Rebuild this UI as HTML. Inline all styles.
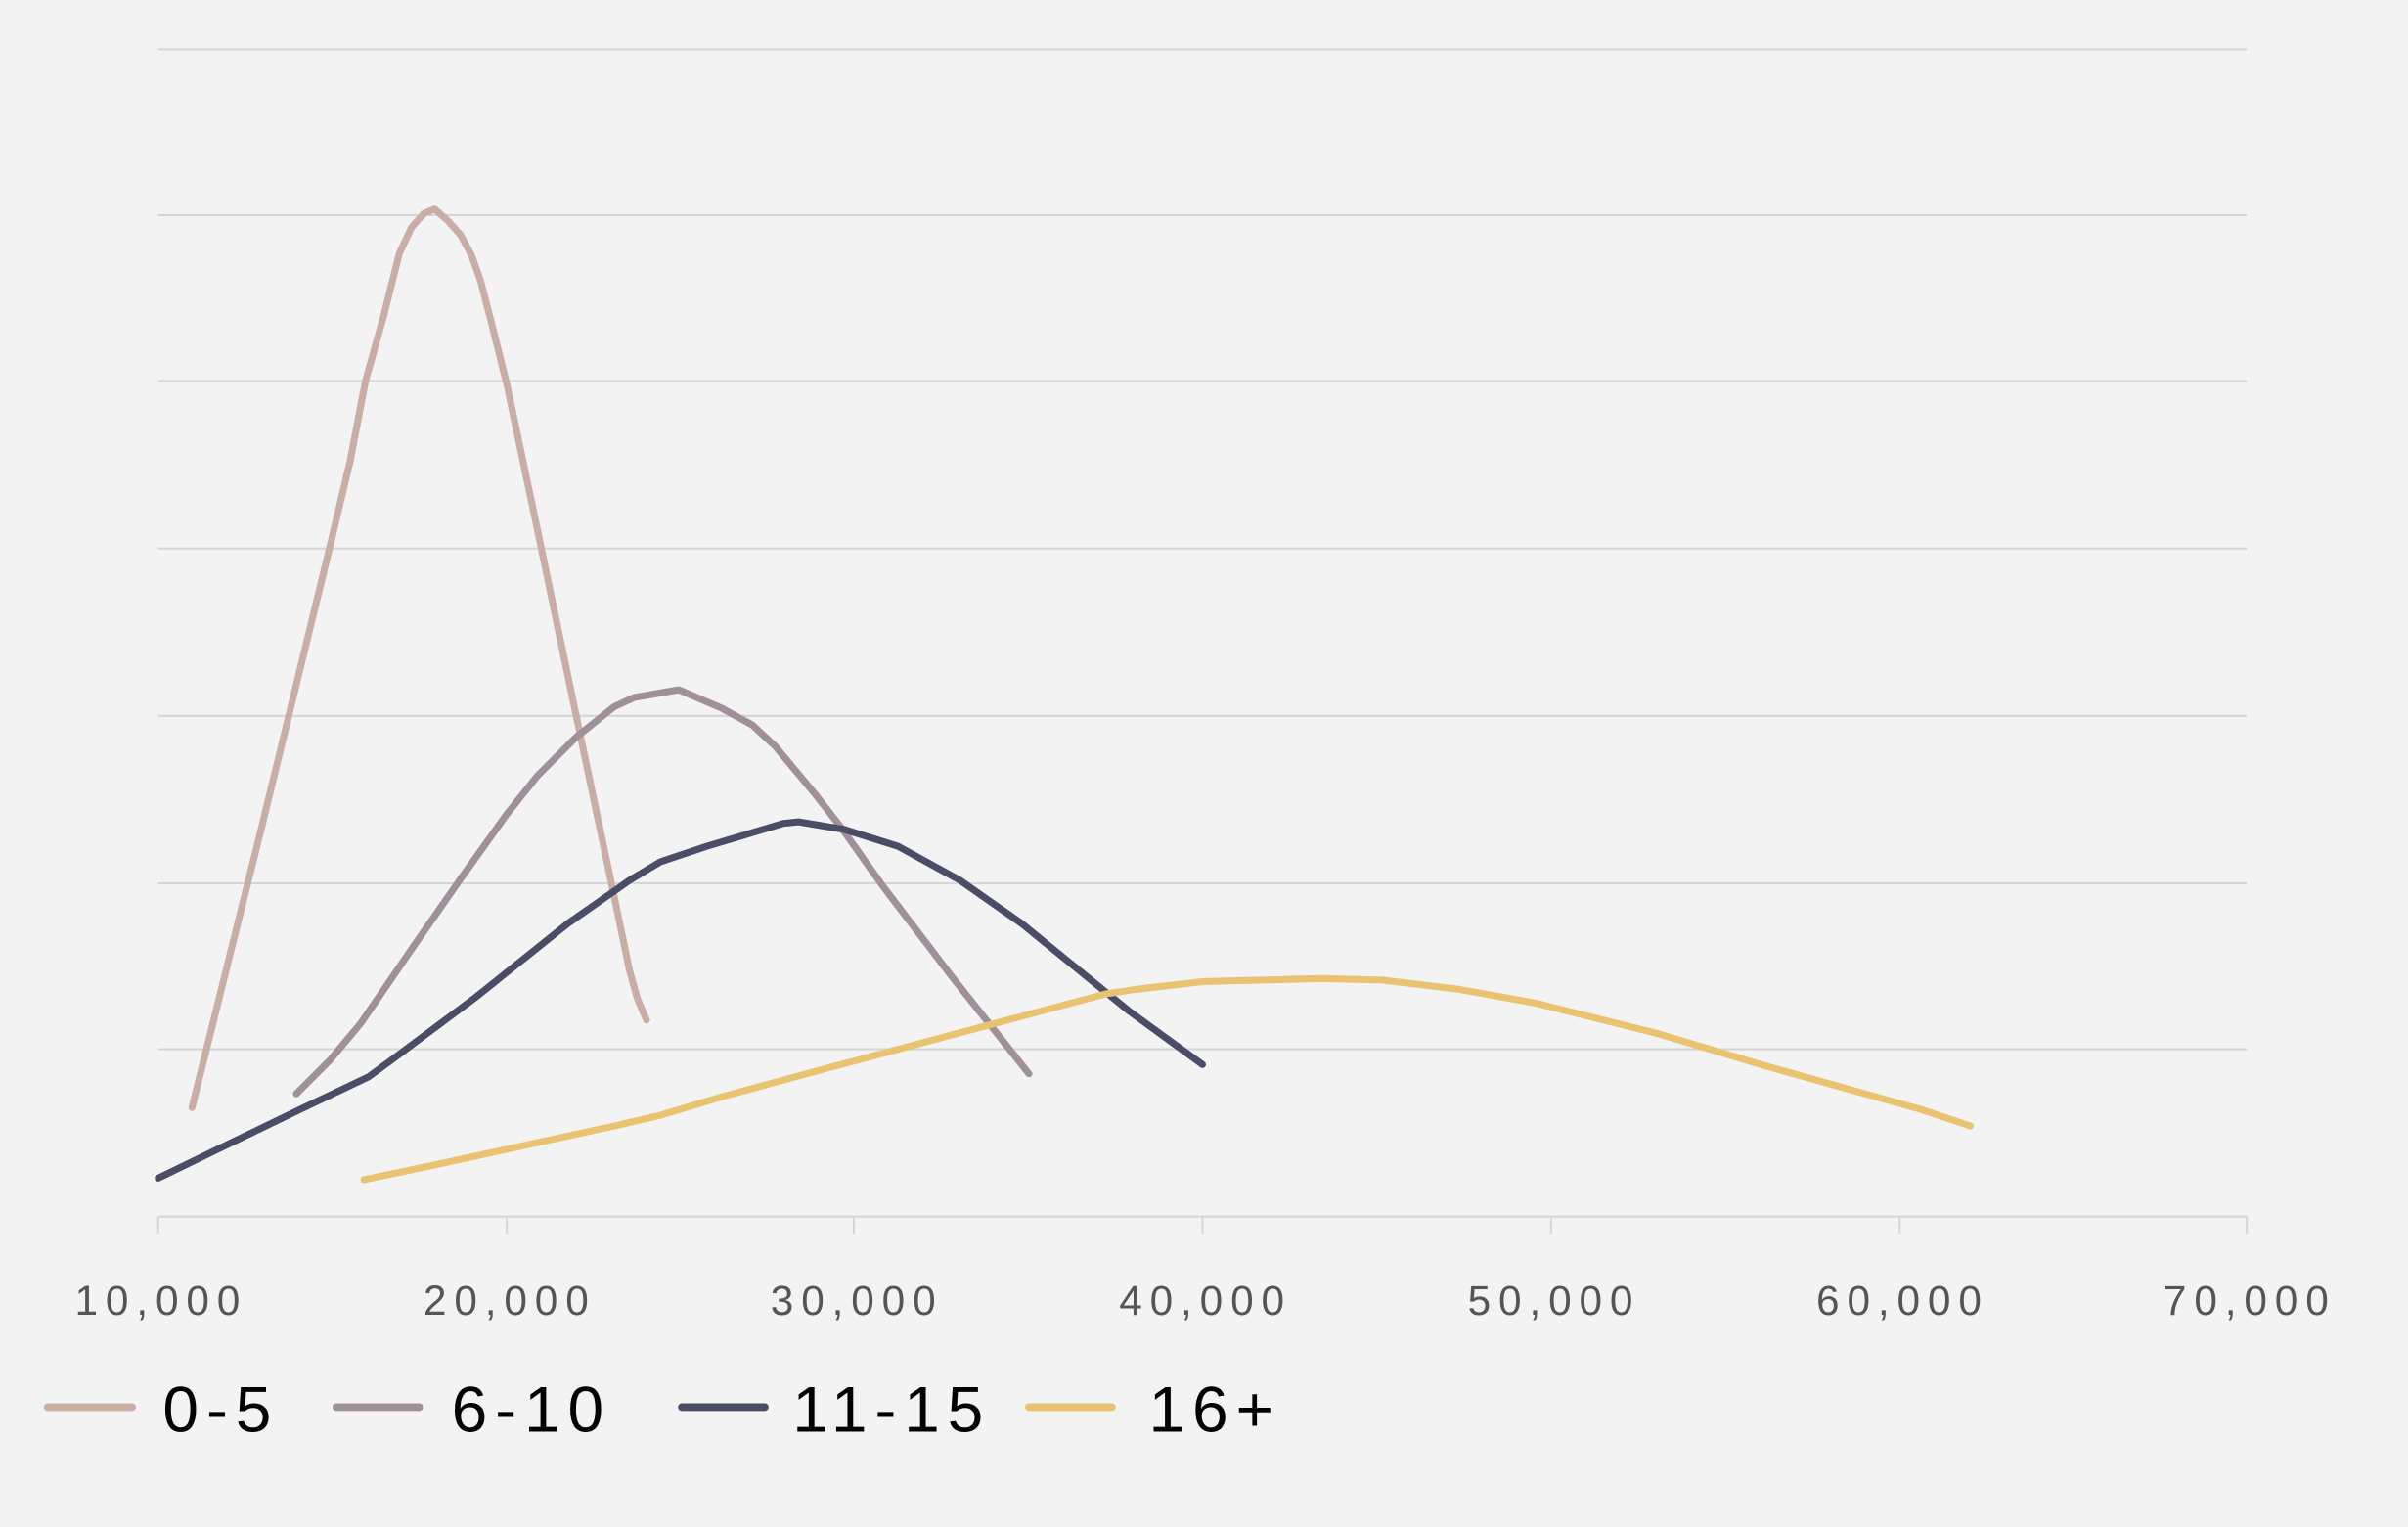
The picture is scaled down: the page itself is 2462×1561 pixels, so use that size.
<!DOCTYPE html>
<html><head><style>html,body{margin:0;padding:0;background:#f3f3f3;}svg{display:block}</style></head>
<body>
<svg width="2462" height="1561" viewBox="0 0 1568 994" xmlns="http://www.w3.org/2000/svg">
<rect width="1568" height="994" fill="#f3f3f3"/>
<g stroke="#d6d6d6" stroke-width="1.3">
<line x1="103" y1="32" x2="1463" y2="32"/><line x1="103" y1="140" x2="1463" y2="140"/>
<line x1="103" y1="248" x2="1463" y2="248"/><line x1="103" y1="357" x2="1463" y2="357"/>
<line x1="103" y1="466" x2="1463" y2="466"/><line x1="103" y1="575" x2="1463" y2="575"/>
<line x1="103" y1="683" x2="1463" y2="683"/><line x1="103" y1="792" x2="1463" y2="792"/>
<line x1="103" y1="792" x2="103" y2="803"/><line x1="330" y1="792" x2="330" y2="803"/>
<line x1="556" y1="792" x2="556" y2="803"/><line x1="783" y1="792" x2="783" y2="803"/>
<line x1="1010" y1="792" x2="1010" y2="803"/><line x1="1237" y1="792" x2="1237" y2="803"/>
<line x1="1463" y1="792" x2="1463" y2="803"/>
</g>
<g font-family="Liberation Sans, sans-serif" font-size="27" fill="#555" text-anchor="middle" letter-spacing="5">
<text x="105" y="856">10,000</text><text x="332" y="856">20,000</text><text x="558" y="856">30,000</text>
<text x="785" y="856">40,000</text><text x="1012" y="856">50,000</text><text x="1239" y="856">60,000</text>
<text x="1465" y="856">70,000</text>
</g>
<g fill="none" stroke-width="4.5" stroke-linecap="round" stroke-linejoin="round">
<polyline stroke="#c9aea6" points="125,721 170,540 215,355 228,300 238,248 250,205 260,165 268,148 276,139 283,136 292,144 300,153 307,166 313,183 320,210 330,250 350,345 375,465 395,560 410,632 415,650 421,664"/>
<polyline stroke="#9f9099" points="193,712 215,690 235,666 270,615 300,572 330,530 350,505 375,480 400,460 413,454 442,449 470,461 490,472 505,486 530,516 548,539 575,577 620,636 670,699"/>
<polyline stroke="#4b4d66" points="103,767 140,749 200,720 240,701 255,690 310,649 370,601 410,573 430,561 460,551 490,542 510,536 520,535 550,540 585,551 625,573 665,601 735,658 783,693"/>
<polyline stroke="#e8c371" points="237,768 280,759 340,746 400,733 430,726 470,714 540,695 600,679 660,663 720,647 740,644 783,639 860,637 900,638 950,644 1000,653 1080,673 1150,694 1200,708 1250,722 1283,733"/>
</g>
<g stroke-width="5" stroke-linecap="round">
<line x1="31" y1="916" x2="86" y2="916" stroke="#c9aea6"/>
<line x1="219" y1="916" x2="273" y2="916" stroke="#9f9099"/>
<line x1="444" y1="916" x2="498" y2="916" stroke="#4b4d66"/>
<line x1="670" y1="916" x2="724" y2="916" stroke="#e8c371"/>
</g>
<g font-family="Liberation Sans, sans-serif" font-size="42" fill="#000" letter-spacing="5">
<text x="106" y="932">0-5</text><text x="294" y="932">6-10</text><text x="516" y="932">11-15</text><text x="748" y="932">16+</text>
</g>
</svg>
</body></html>
